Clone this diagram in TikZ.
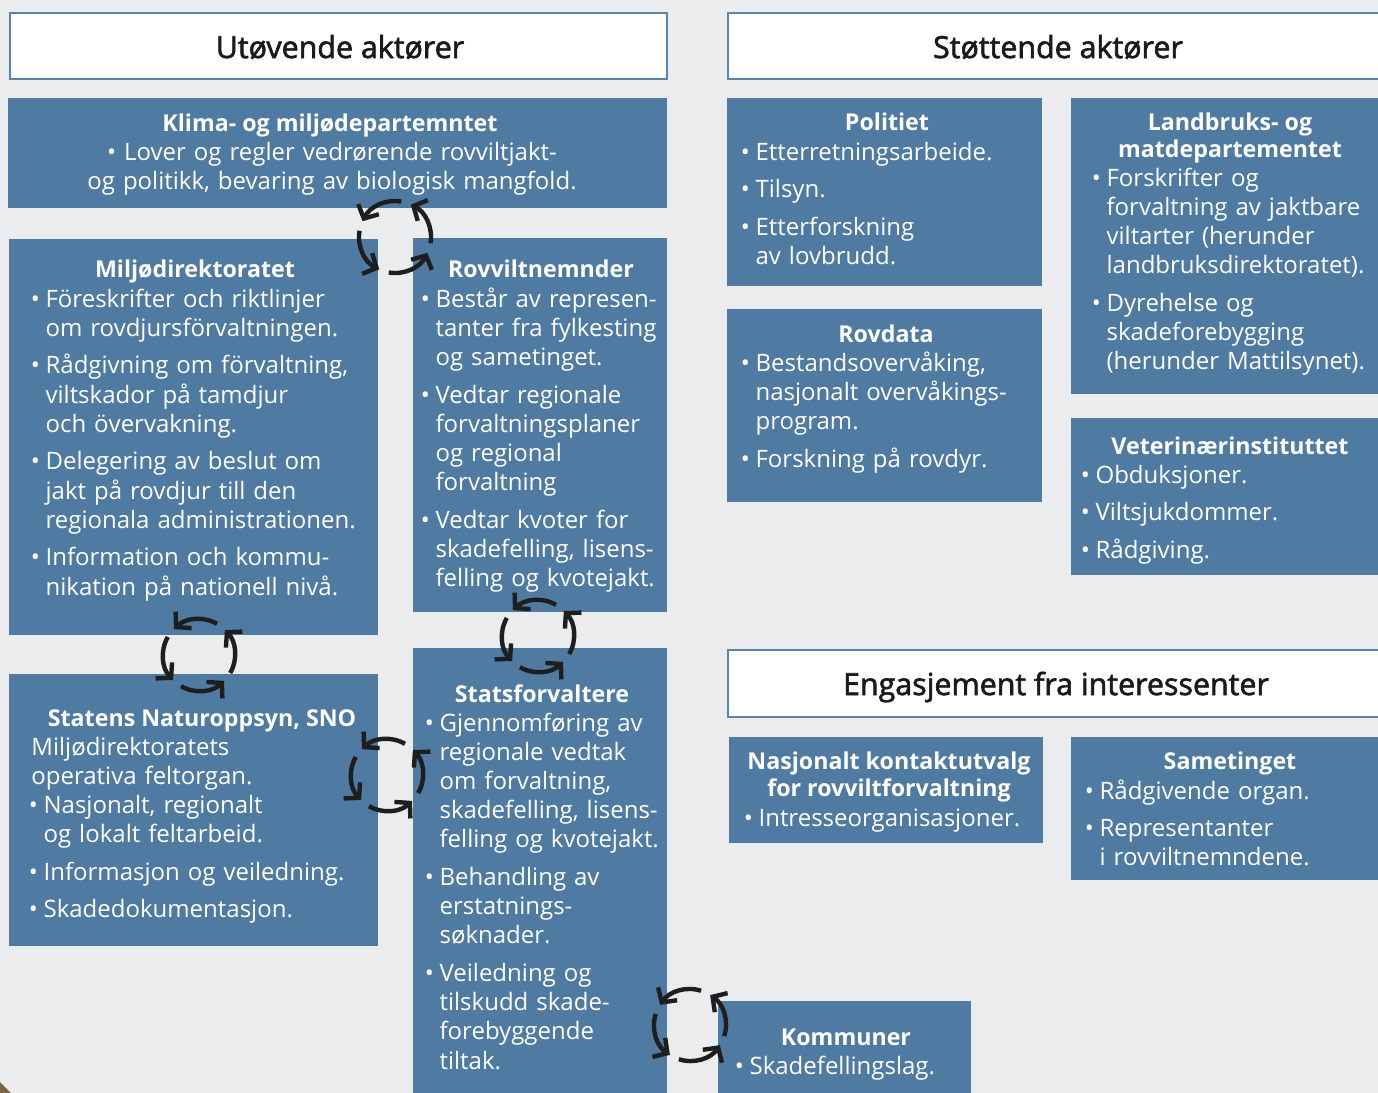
\documentclass[tikz,border=0pt]{standalone}
\usepackage{fontspec}
\setmainfont{Open Sans}
\font\hdrfnt="Open Sans:embolden=2" at 15.2pt
\usetikzlibrary{arrows.meta,calc,fit}
\definecolor{bgc}{HTML}{EBECEE}
\definecolor{boxblue}{HTML}{4F7AA2}
\definecolor{hdrblue}{HTML}{5B84AC}
\definecolor{arrc}{HTML}{1E1E1E}
\definecolor{hdrtext}{HTML}{1A1A1A}
\definecolor{cornbrown}{HTML}{7B6448}
\newcommand\bodyfont{\fontsize{12pt}{14.6pt}\selectfont}
\newcommand\ttlfont{\fontsize{11.6pt}{13.5pt}\selectfont\bfseries}
\newcommand\hdrfont{\hdrfnt}
\newcommand\bl{\makebox[6.1pt][l]{\hspace*{-1.3pt}•}}
\newcommand\ind{\hspace*{6.1pt}}
\newcommand\igap{\\[4.2pt]}
\newcommand\cycarrows[2]{%
  \foreach \k in {0,1,2,3}{%
    \pgfmathsetmacro\sa{-(60+#2+90*\k)}%
    \pgfmathsetmacro\ea{-(134+#2+90*\k)}%
    \draw[cycarrow] ($(#1)+(\sa:36)$) arc[start angle=\sa, end angle=\ea, radius=36];
  }}
\begin{document}
\begin{tikzpicture}[x=0.5pt,y=-0.5pt,
  box/.style={fill=boxblue, draw=none, inner sep=0pt},
  hdr/.style={fill=white, draw=hdrblue, line width=1.25pt, inner sep=0pt},
  hdrtxt/.style={anchor=base, inner sep=0pt, text=hdrtext, font=\hdrfont},
  ttl/.style={anchor=base, inner sep=0pt, text=white, font=\ttlfont, align=center},
  body/.style={anchor=base west, inner sep=0pt, text=white, font=\bodyfont, align=left, text width=200pt},
  bodyc/.style={anchor=base, inner sep=0pt, text=white, font=\bodyfont, align=center, text width=320pt},
  cycarrow/.style={draw=arrc, line width=2.2pt, -{Straight Barb[length=5.2pt,width=11.5pt]}}]
\useasboundingbox (0,0) rectangle (1378,1093);
\clip (0,0) rectangle (1378,1093);
\fill[bgc] (0,0) rectangle (1378,1093);
\fill[cornbrown] (0,1082) -- (11,1093) -- (0,1093) -- cycle;

% headers
\node[hdr, fit={(10,13) (667,79)}] (h1) {};
\node[hdrtxt] (h1t) at (340,58) {Utøvende aktører};
\node[hdr, fit={(728,13) (1392,79)}] (h2) {};
\node[hdrtxt] (h2t) at (1058,58) {Støttende aktører};
\node[hdr, fit={(728,650) (1392,717)}] (h3) {};
\node[hdrtxt] (h3t) at (1056,695) {Engasjement fra interessenter};

% boxes
\node[box, fit={(8,98) (667,208)}] (klima) {};
\node[box, fit={(9,239) (378,635)}] (mdir) {};
\node[box, fit={(413,238) (667,612)}] (rovn) {};
\node[box, fit={(9,674) (378,946)}] (sno) {};
\node[box, fit={(413,648) (667,1100)}] (stat) {};
\node[box, fit={(727,98) (1042,286)}] (pol) {};
\node[box, fit={(1071,98) (1392,394)}] (landb) {};
\node[box, fit={(727,309) (1042,502)}] (rovd) {};
\node[box, fit={(1071,418) (1392,575)}] (vet) {};
\node[box, fit={(729,737) (1043,843)}] (nkr) {};
\node[box, fit={(1071,737) (1392,880)}] (same) {};
\node[box, fit={(718,1001) (971,1100)}] (komm) {};

% texts
\node[ttl] (klimaT) at (330,131) {Klima- og miljødepartemntet};
\node[bodyc] (klimaB) at (332,160) {• Lover og regler vedrørende rovviltjakt-\\og politikk, bevaring av biologisk mangfold.};

\node[ttl] (mdirT) at (195,277) {Miljødirektoratet};
\node[body] (mdirB) at (33,307) {\bl Föreskrifter och riktlinjer\\\ind om rovdjursförvaltningen.\igap
\bl Rådgivning om förvaltning,\\\ind viltskador på tamdjur\\\ind och övervakning.\igap
\bl Delegering av beslut om\\\ind jakt på rovdjur till den\\\ind regionala administrationen.\igap
\bl Information och kommu-\\\ind nikation på nationell nivå.};

\node[ttl] (rovnT) at (541,277) {Rovviltnemnder};
\node[body] (rovnB) at (423,307) {\bl Består av represen-\\\ind tanter fra fylkesting\\\ind og sametinget.\igap
\bl Vedtar regionale\\\ind forvaltningsplaner\\\ind og regional\\\ind forvaltning\igap
\bl Vedtar kvoter for\\\ind skadefelling, lisens-\\\ind felling og kvotejakt.};

\node[ttl] (snoT) at (202,726) {Statens Naturoppsyn, SNO};
\node[body] (snoB) at (31,755) {Miljødirektoratets\\operativa feltorgan.\\
\bl Nasjonalt, regionalt\\\ind og lokalt feltarbeid.\igap
\bl Informasjon og veiledning.\igap
\bl Skadedokumentasjon.};

\node[ttl] (statT) at (542,702) {Statsforvaltere};
\node[body] (statB) at (427,731) {\bl Gjennomføring av\\\ind regionale vedtak\\\ind om forvaltning,\\\ind skadefelling, lisens-\\\ind felling og kvotejakt.\igap
\bl Behandling av\\\ind erstatnings-\\\ind søknader.\igap
\bl Veiledning og\\\ind tilskudd skade-\\\ind forebyggende\\\ind tiltak.};

\node[ttl] (polT) at (887,130) {Politiet};
\node[body] (polB) at (743,160) {\bl Etterretningsarbeide.\igap
\bl Tilsyn.\igap
\bl Etterforskning\\\ind av lovbrudd.};

\node[ttl] (landbT) at (1230,157) {Landbruks- og\\matdepartementet};
\node[body] (landbB) at (1094,186) {\bl Forskrifter og\\\ind forvaltning av jaktbare\\\ind viltarter (herunder\\\ind landbruksdirektoratet).\igap
\bl Dyrehelse og\\\ind skadeforebygging\\\ind (herunder Mattilsynet).};

\node[ttl] (rovdT) at (886,342) {Rovdata};
\node[body] (rovdB) at (743,371) {\bl Bestandsovervåking,\\\ind nasjonalt overvåkings-\\\ind program.\igap
\bl Forskning på rovdyr.};

\node[ttl] (vetT) at (1230,454) {Veterinærinstituttet};
\node[body] (vetB) at (1083,483) {\bl Obduksjoner.\igap
\bl Viltsjukdommer.\igap
\bl Rådgiving.};

\node[ttl] (nkrT) at (889,796) {Nasjonalt kontaktutvalg\\for rovviltforvaltning};
\node[body] (nkrB) at (746,826) {\bl Intresseorganisasjoner.};

\node[ttl] (sameT) at (1230,769) {Sametinget};
\node[body] (sameB) at (1087,799) {\bl Rådgivende organ.\igap
\bl Representanter\\\ind i rovviltnemndene.};

\node[ttl] (kommT) at (846,1045) {Kommuner};
\node[body] (kommB) at (737,1074) {\bl Skadefellingslag.};

% cycle arrows
\coordinate (c1) at (395,237);
\coordinate (c2) at (538,636);
\coordinate (c3) at (199,655);
\coordinate (c4) at (387,775);
\coordinate (c5) at (690,1025);
\cycarrows{c1}{20}
\cycarrows{c2}{0}
\cycarrows{c3}{0}
\cycarrows{c4}{0}
\cycarrows{c5}{12}
\end{tikzpicture}
\end{document}
